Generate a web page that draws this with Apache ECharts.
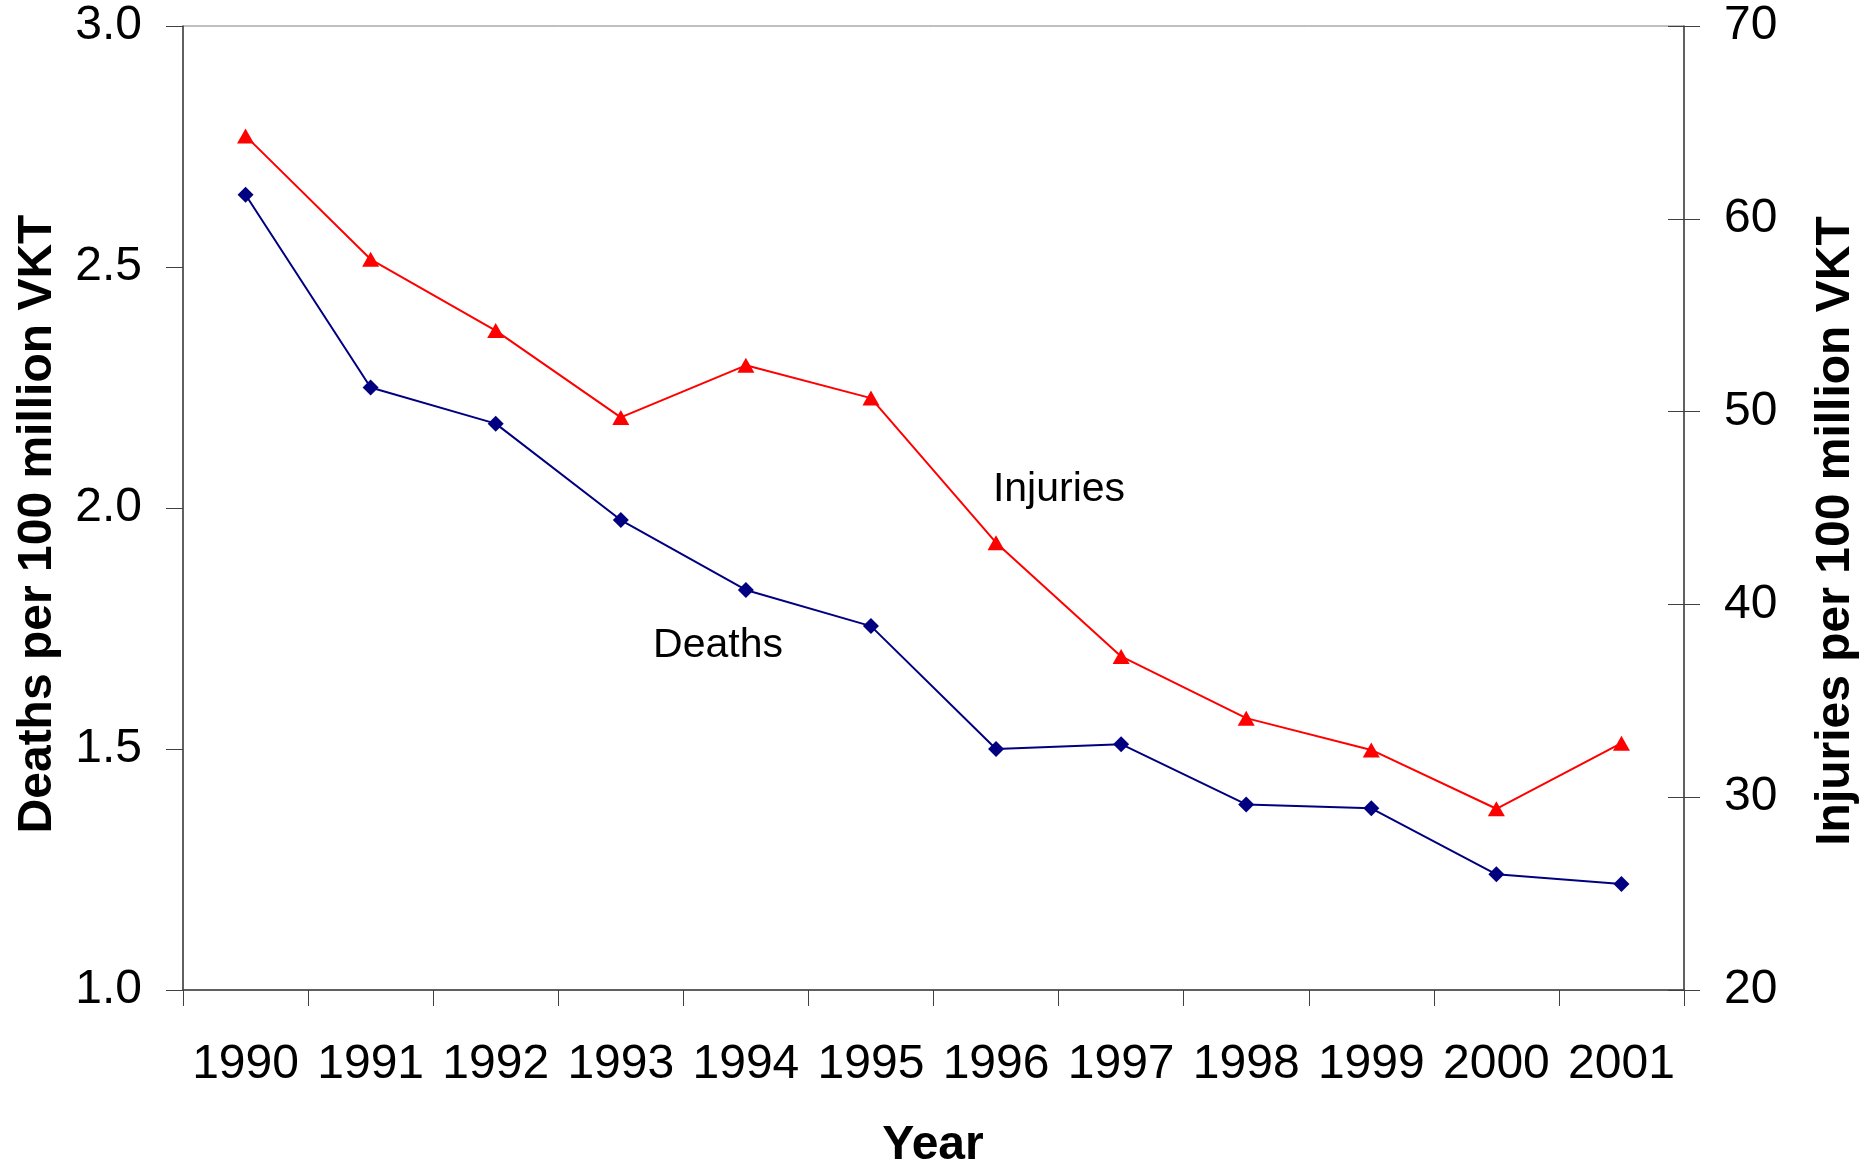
<!DOCTYPE html>
<html>
<head>
<meta charset="utf-8">
<script src="https://cdn.jsdelivr.net/npm/echarts@6/dist/echarts.min.js"></script>
<style>
  html, body { margin: 0; padding: 0; background: #fff; }
  #mainChart { width: 1875px; height: 1166px; }
</style>
</head>
<body>
<div id="mainChart"></div>
<script>
var years = ['1990', '1991', '1992', '1993', '1994', '1995', '1996', '1997', '1998', '1999', '2000', '2001'];
// deaths per 100 million VKT (left axis)
var deaths = [2.65, 2.25, 2.175, 1.975, 1.83, 1.755, 1.50, 1.51, 1.385, 1.377, 1.24, 1.22];
// injuries per 100 million VKT (right axis)
var injuries = [64.3, 57.9, 54.2, 49.7, 52.4, 50.7, 43.2, 37.3, 34.1, 32.45, 29.4, 32.8];

var deathTicks = { min: 1, max: 3, interval: 0.5 };
var injuryTicks = { min: 20, max: 70, interval: 10 };

var fontName = 'Liberation Sans, Arial, sans-serif';
var axisColor = '#404040';

var myChart = echarts.init(document.getElementById('mainChart'));

var option = {
    backgroundColor: '#fff',
    animation: false,
    grid: {
        left: 183, right: 191, top: 26, bottom: 176,
        containLabel: false,
        outerBoundsMode: 'none',
        show: true,
        borderColor: '#808080',
        borderWidth: 1
    },
    xAxis: {
        type: 'category',
        data: years,
        boundaryGap: true,
        axisLine: { lineStyle: { color: axisColor, width: 1.5 } },
        axisTick: { show: true, length: 16, lineStyle: { color: axisColor } },
        axisLabel: { color: '#000', fontSize: 48, fontFamily: fontName, margin: 51, interval: 0 },
        splitLine: { show: false }
    },
    yAxis: [{
        type: 'value',
        position: 'left',
        min: deathTicks.min, max: deathTicks.max, interval: deathTicks.interval,
        axisLine: { show: true, lineStyle: { color: axisColor, width: 1.5 } },
        axisTick: { show: true, length: 17, lineStyle: { color: axisColor } },
        axisLabel: {
            color: '#000', fontSize: 48, fontFamily: fontName, margin: 41,
            formatter: function (v) { return v.toFixed(1); }
        },
        splitLine: { show: false }
    }, {
        type: 'value',
        position: 'right',
        min: injuryTicks.min, max: injuryTicks.max, interval: injuryTicks.interval,
        axisLine: { show: true, lineStyle: { color: axisColor, width: 1.5 } },
        axisTick: { show: true, length: 16, lineStyle: { color: axisColor } },
        axisLabel: { color: '#000', fontSize: 48, fontFamily: fontName, margin: 40 },
        splitLine: { show: false }
    }, {
        // inner half of the crossing ticks on the right axis
        type: 'value',
        position: 'right',
        min: injuryTicks.min, max: injuryTicks.max, interval: injuryTicks.interval,
        axisLine: { show: false },
        axisTick: { show: true, inside: true, length: 16, lineStyle: { color: axisColor } },
        axisLabel: { show: false },
        splitLine: { show: false }
    }],
    series: [{
        name: 'Deaths',
        type: 'line',
        yAxisIndex: 0,
        data: deaths,
        symbol: 'diamond',
        symbolSize: 16,
        color: '#000080',
        lineStyle: { color: '#000080', width: 2 },
        itemStyle: { color: '#000080' }
    }, {
        name: 'Injuries',
        type: 'line',
        yAxisIndex: 1,
        data: injuries,
        symbol: 'triangle',
        symbolSize: [17, 15],
        color: '#ff0000',
        lineStyle: { color: '#ff0000', width: 2 },
        itemStyle: { color: '#ff0000' }
    }],
    graphic: [{
        type: 'text', x: 38, y: 524, rotation: Math.PI / 2,
        style: { text: 'Deaths per 100 million VKT', font: 'bold 48px ' + fontName, fill: '#000', align: 'center', verticalAlign: 'middle' }
    }, {
        type: 'text', x: 1836, y: 531, rotation: Math.PI / 2,
        style: { text: 'Injuries per 100 million VKT', font: 'bold 48px ' + fontName, fill: '#000', align: 'center', verticalAlign: 'middle' }
    }, {
        type: 'text', x: 933, y: 1146,
        style: { text: 'Year', font: 'bold 48px ' + fontName, fill: '#000', align: 'center', verticalAlign: 'middle' }
    }, {
        type: 'text', x: 1059, y: 490,
        style: { text: 'Injuries', font: '41px ' + fontName, fill: '#000', align: 'center', verticalAlign: 'middle' }
    }, {
        type: 'text', x: 718, y: 646,
        style: { text: 'Deaths', font: '41px ' + fontName, fill: '#000', align: 'center', verticalAlign: 'middle' }
    }]
};

myChart.setOption(option);
</script>
</body>
</html>
